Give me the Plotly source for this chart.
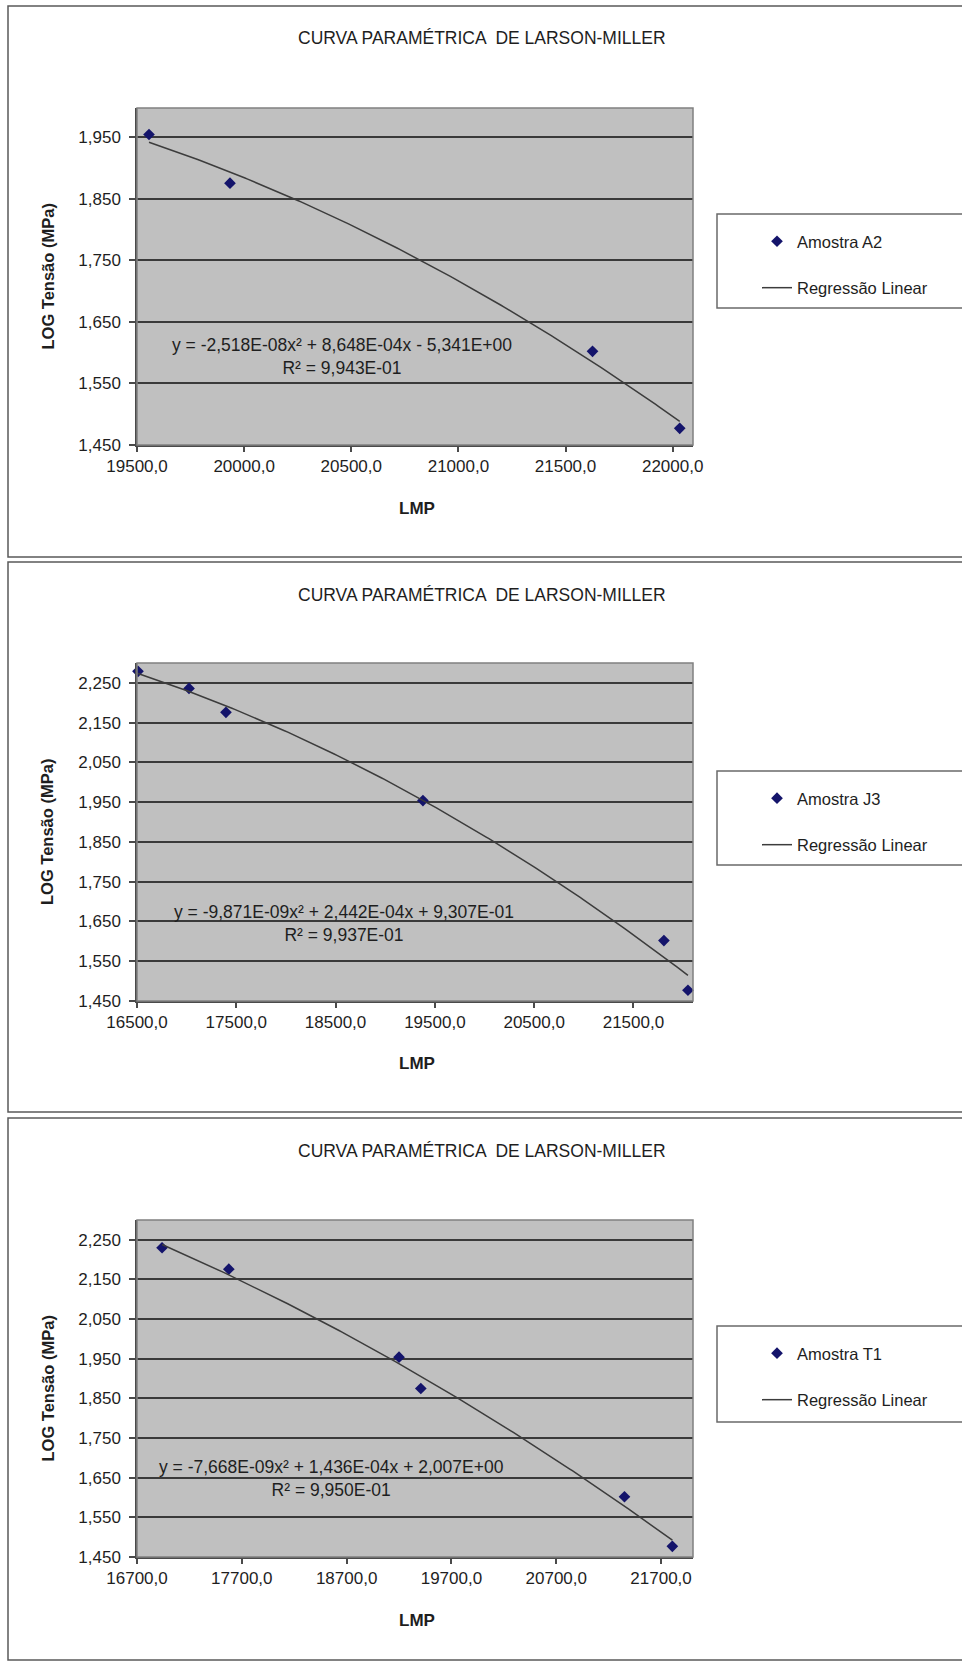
import numpy as np
import plotly.graph_objects as go

# ---------------- data ----------------
title_text = "CURVA PARAMÉTRICA  DE LARSON-MILLER"
x_title = "LMP"
y_title = "LOG Tensão (MPa)"
fit_name = "Regressão Linear"

a2_name = "Amostra A2"
a2_lmp = [19556, 19934, 21626, 22033]
a2_log = [1.954, 1.875, 1.602, 1.477]
a2_eq = "y = -2,518E-08x² + 8,648E-04x - 5,341E+00<br>R² = 9,943E-01"

j3_name = "Amostra J3"
j3_lmp = [16510, 17024, 17396, 19380, 21807, 22049]
j3_log = [2.279, 2.236, 2.176, 1.954, 1.602, 1.477]
j3_eq = "y = -9,871E-09x² + 2,442E-04x + 9,307E-01<br>R² = 9,937E-01"

t1_name = "Amostra T1"
t1_lmp = [16939, 17576, 19200, 19408, 21351, 21808]
t1_log = [2.230, 2.176, 1.954, 1.875, 1.602, 1.477]
t1_eq = "y = -7,668E-09x² + 1,436E-04x + 2,007E+00<br>R² = 9,950E-01"

x_ranges = [[19500, 22095], [16500, 22100], [16700, 22005]]
x_tick0 = [19500, 16500, 16700]
x_dtick = [500, 1000, 1000]
y_ranges = [[1.45, 1.997], [1.45, 2.30], [1.45, 2.30]]

# ---------------- layout helpers (pixel geometry) ----------------
W, H = 962, 1662
FONT = "Liberation Sans, Arial, sans-serif"
TXT = "#1e1e1e"


def px(x):
    return x / W


def py(y):
    return 1 - y / H


panels = [
    dict(name=a2_name, x=a2_lmp, y=a2_log, eq=a2_eq,
         box=(8, 6, 557), plot=(137, 108, 693, 445), title_y=38, lmp_y=508,
         eq_xy=(342, 357), legend=(214, 308)),
    dict(name=j3_name, x=j3_lmp, y=j3_log, eq=j3_eq,
         box=(8, 562, 1112), plot=(137, 663, 693, 1001), title_y=595, lmp_y=1063,
         eq_xy=(344, 923), legend=(771, 865)),
    dict(name=t1_name, x=t1_lmp, y=t1_log, eq=t1_eq,
         box=(8, 1118, 1660), plot=(137, 1220, 693, 1557), title_y=1151, lmp_y=1620,
         eq_xy=(331, 1478), legend=(1326, 1422)),
]

fig = go.Figure()
shapes = []
annotations = []
layout_axes = {}


def note(text, x, y, size, angle=0):
    return dict(text=text, x=px(x), y=py(y), xref="paper", yref="paper",
                xanchor="center", yanchor="middle", align="center",
                showarrow=False, textangle=angle,
                font=dict(family=FONT, size=size, color=TXT))


for i, p in enumerate(panels):
    n = i + 1
    xa = "x" if n == 1 else f"x{n}"
    ya = "y" if n == 1 else f"y{n}"
    leg = "legend" if n == 1 else f"legend{n}"
    x0, y0, x1, y1 = p["plot"]

    xs = np.array(p["x"], dtype=float)
    ys = np.array(p["y"], dtype=float)
    coef = np.polyfit(xs, ys, 2)
    xf = np.linspace(xs.min(), xs.max(), 200)
    yf = np.polyval(coef, xf)

    fig.add_trace(go.Scatter(
        x=p["x"], y=p["y"], mode="markers", name=p["name"],
        xaxis=xa, yaxis=ya, legend=leg, legendgroup=f"pts{n}",
        marker=dict(symbol="diamond", size=9, color="#14146b",
                    line=dict(width=0)),
        cliponaxis=False,
    ))
    fig.add_trace(go.Scatter(
        x=xf, y=yf, mode="lines", name=fit_name,
        xaxis=xa, yaxis=ya, legend=leg, legendgroup=f"fit{n}",
        line=dict(color="#3c3c3c", width=1.5),
    ))

    layout_axes[("xaxis" if n == 1 else f"xaxis{n}")] = dict(
        domain=[px(x0), px(x1)], anchor=ya, range=x_ranges[i], automargin=False,
        tick0=x_tick0[i], dtick=x_dtick[i], tickformat=".1f",
        showgrid=False, zeroline=False, showline=True,
        linecolor="#4a4a4a", linewidth=1.5,
        ticks="outside", ticklen=5, tickcolor="#4a4a4a", tickwidth=1.5,
        tickfont=dict(family=FONT, size=17, color=TXT),
    )
    layout_axes[("yaxis" if n == 1 else f"yaxis{n}")] = dict(
        domain=[py(y1), py(y0)], anchor=xa, range=y_ranges[i], automargin=False,
        tick0=1.45, dtick=0.1, tickformat=".3f",
        showgrid=True, gridcolor="#3a3a3a", gridwidth=2,
        zeroline=False, showline=True,
        linecolor="#4a4a4a", linewidth=1.5,
        ticks="outside", ticklen=6, tickcolor="#4a4a4a", tickwidth=1.5,
        tickfont=dict(family=FONT, size=17, color=TXT),
        ticklabelstandoff=5,
    )

    # chart frame
    bx, by0, by1 = p["box"]
    shapes.append(dict(type="rect", xref="paper", yref="paper",
                       x0=px(bx), x1=px(bx + 1000), y0=py(by1), y1=py(by0),
                       line=dict(color="#5a5a5a", width=1.5), layer="below"))
    # plot-area border (top/right)
    shapes.append(dict(type="rect", xref="paper", yref="paper",
                       x0=px(x0), x1=px(x1), y0=py(y1), y1=py(y0),
                       line=dict(color="#808080", width=1.5), layer="above"))
    # legend box
    ly0, ly1 = p["legend"]
    shapes.append(dict(type="rect", xref="paper", yref="paper",
                       x0=px(717), x1=px(1000), y0=py(ly1), y1=py(ly0),
                       line=dict(color="#6a6a6a", width=1.5),
                       fillcolor="white", layer="below"))

    layout_axes[leg] = dict(
        x=px(757), y=py(ly0 + 10), xanchor="left", yanchor="top",
        bgcolor="rgba(0,0,0,0)", borderwidth=0,
        font=dict(family=FONT, size=16.5, color=TXT),
        tracegroupgap=22, itemsizing="trace",
    )

    annotations.append(note(title_text, 482, p["title_y"], 17.5))
    annotations.append(note(f"<b>{x_title}</b>", 417, p["lmp_y"], 17))
    annotations.append(note(f"<b>{y_title}</b>", 47, (y0 + y1) / 2, 16.5, angle=-90))
    annotations.append(note(p["eq"], p["eq_xy"][0], p["eq_xy"][1], 17.5))

fig.update_layout(
    width=W, height=H,
    margin=dict(l=0, r=0, t=0, b=0, autoexpand=False),
    paper_bgcolor="white",
    plot_bgcolor="#c0c0c0",
    separators=",.",
    showlegend=True,
    shapes=shapes,
    annotations=annotations,
    **layout_axes,
)

fig.write_html("out.html",
               config={"displayModeBar": False},
               post_script="document.body.style.margin='0px';document.body.style.overflow='hidden';")
